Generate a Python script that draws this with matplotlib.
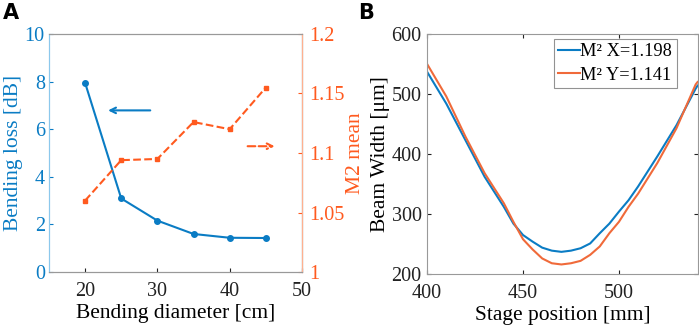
import matplotlib
matplotlib.use("Agg")
import matplotlib.pyplot as plt

plt.rcParams['font.family'] = ['Liberation Serif', 'DejaVu Serif']
plt.rcParams['mathtext.fontset'] = 'stix'

# Panel A data
diam = [20, 25, 30, 35, 40, 45]
bend_loss = [7.95, 3.09, 2.16, 1.60, 1.44, 1.43]
m2_mean = [1.060, 1.094, 1.095, 1.126, 1.120, 1.155]

# Panel B data
stage_pos = [400, 410, 420, 430, 440, 445, 450, 455, 460, 465, 470, 475, 480,
             485, 490, 495, 500, 505, 510, 520, 530, 540, 541]
width_x = [537, 484, 423, 362, 312, 284, 265, 254, 244, 239, 237, 239, 243,
           251, 268, 284, 304, 323, 346, 396, 448, 509, 514]
width_y = [550, 496, 429, 368, 318, 287, 258, 241, 226, 218, 216, 218, 222,
           232, 246, 268, 287, 312, 334, 385, 443, 516, 520]

blue = '#0A7CC4'
orange = '#FF5A1F'
orange_line = '#F06A3A'
blue_spine = '#8CC8EC'
orange_spine = '#FFB08F'

FS_LAB = 15.5
FS_TICK = 14.5
FS_LEG = 13.2

fig = plt.figure(figsize=(6.99, 3.33), dpi=100)

# ---------- Panel A ----------
axA = fig.add_axes([0.070, 0.183, 0.362, 0.715])
axA.plot(diam, bend_loss, '-o', color=blue, lw=1.5, ms=4)
axA.set_xlim(15, 50)
axA.set_ylim(0, 10)
axA.set_xticks([20, 30, 40, 50])
axA.set_yticks([0, 2, 4, 6, 8, 10])
axA.set_xlabel('Bending diameter [cm]', fontsize=FS_LAB, labelpad=2)
axA.set_ylabel('Bending loss [dB]', fontsize=FS_LAB, color=blue, labelpad=1)
axA.tick_params(axis='y', colors=blue, labelsize=FS_TICK, direction='in', length=3, pad=3)
axA.tick_params(axis='x', labelsize=FS_TICK, direction='in', length=3, colors='#222222', pad=7)
axA.spines['left'].set_color(blue_spine)
axA.spines['top'].set_color('#999999')
axA.spines['bottom'].set_color('#999999')
axA.annotate('', xy=(22.8, 6.79), xytext=(29.4, 6.79),
             arrowprops=dict(arrowstyle='->', color=blue, lw=1.5))

axA2 = axA.twinx()
axA2.plot(diam, m2_mean, '--s', color=orange, lw=1.5, ms=3.5)
axA2.set_ylim(1, 1.2)
axA2.set_yticks([1, 1.05, 1.1, 1.15, 1.2])
axA2.set_yticklabels(['1', '1.05', '1.1', '1.15', '1.2'])
axA2.set_ylabel('M2 mean', fontsize=FS_LAB, color=orange, labelpad=1)
axA2.tick_params(axis='y', colors=orange, labelsize=FS_TICK, direction='in', length=3, pad=5)
axA2.spines['right'].set_color(orange_spine)
axA2.spines['left'].set_color(blue_spine)
axA2.spines['top'].set_color('#999999')
axA2.spines['bottom'].set_color('#999999')
axA2.annotate('', xy=(46.6, 1.1057), xytext=(42.1, 1.1057),
              arrowprops=dict(arrowstyle='->', color=orange, lw=1.5, linestyle='--'))

# ---------- Panel B ----------
axB = fig.add_axes([0.611, 0.177, 0.387, 0.721])
axB.plot(stage_pos, width_x, color=blue, lw=1.5, label='M² X=1.198')
axB.plot(stage_pos, width_y, color=orange_line, lw=1.5, label='M² Y=1.141')
axB.set_xlim(400, 541)
axB.set_ylim(200, 600)
axB.set_xticks([400, 450, 500])
axB.set_yticks([200, 300, 400, 500, 600])
axB.set_xlabel('Stage position [mm]', fontsize=FS_LAB, labelpad=2)
axB.set_ylabel('Beam Width [μm]', fontsize=FS_LAB, labelpad=1)
axB.tick_params(labelsize=FS_TICK, direction='in', length=3, colors='#222222',
                top=True, right=True)
axB.tick_params(axis='x', pad=7)
axB.tick_params(axis='y', pad=4)
for s in axB.spines.values():
    s.set_color('#999999')
leg = axB.legend(loc='upper right', fontsize=FS_LEG, frameon=True, fancybox=False,
                 handlelength=1.2, handletextpad=0.0, borderpad=0.25,
                 labelspacing=0.35, borderaxespad=0,
                 bbox_to_anchor=(0.923, 0.98))
leg.get_frame().set_edgecolor('#777777')
leg.get_frame().set_linewidth(0.8)

fig.text(0.004, 0.992, 'A', fontsize=15, fontweight='bold', family='DejaVu Sans',
         va='top', ha='left')
fig.text(0.512, 0.992, 'B', fontsize=15, fontweight='bold', family='DejaVu Sans',
         va='top', ha='left')

fig.savefig('out.png', dpi=100)
